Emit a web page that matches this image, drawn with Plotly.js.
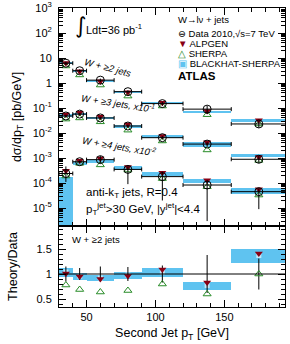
<!DOCTYPE html>
<html><head><meta charset="utf-8">
<script src="https://cdn.plot.ly/plotly-3.0.1.min.js"></script>
<style>html,body{margin:0;padding:0;background:#fff}#chart{width:290px;height:344px}</style>
</head><body><div id="chart"></div>
<script>
// ---- bins (second jet pT, GeV) ----
const binLo = [30, 40, 50, 70, 90, 120, 155];
const binHi = [40, 50, 70, 90, 120, 155, 195];
const binCenter = [35, 45, 60, 80, 105, 137.5, 175];

// ---- W + >=2 jets (x1), pb/GeV ----
const w2Data     = [6.2, 3.1, 1.3, 0.45, 0.15, 0.09, 0.023];
const w2ErrUp    = [0.93, 0.37, 0.20, 0.063, 0.026, 0.032, 0.007];
const w2ErrDown  = [0.93, 0.37, 0.20, 0.063, 0.026, 0.032, 0.007];
const w2Alpgen   = [6.3, 2.95, 1.17, 0.43, 0.163, 0.075, 0.032];
const w2Sherpa   = [4.8, 2.1, 0.83, 0.30, 0.12, 0.054, 0.023];
const w2BhLo     = [5.9, 2.76, 1.12, 0.41, 0.143, 0.062, 0.028];
const w2BhHi     = [7.0, 3.19, 1.27, 0.47, 0.17, 0.077, 0.035];

// ---- W + >=3 jets (x10^-1) ----
const w3Data     = [0.048, 0.057, 0.040, 0.019, 0.0065, 0.0036, 0.00089];
const w3ErrUp    = [0.006, 0.007, 0.005, 0.0025, 0.001, 0.0007, 0.0003];
const w3ErrDown  = [0.006, 0.007, 0.005, 0.0025, 0.001, 0.0007, 0.00025];
const w3Alpgen   = [0.055, 0.065, 0.045, 0.022, 0.0075, 0.0043, 0.0011];
const w3Sherpa   = [0.036, 0.040, 0.028, 0.013, 0.0048, 0.0021, 0.0008];
const w3BhLo     = [0.043, 0.052, 0.036, 0.0153, 0.0061, 0.0028, 0.00105];
const w3BhHi     = [0.055, 0.064, 0.044, 0.021, 0.0083, 0.0045, 0.0015];

// ---- W + >=4 jets (x10^-2) ----
const w4Data     = [2.4e-4, 7.1e-4, 8.6e-4, 3.5e-4, 1.8e-4, 8.3e-5, 4.5e-5];
const w4ErrUp    = [2.2e-4, 0.8e-4, 3.4e-4, 1.1e-4, 1.0e-4, 4.5e-5, 1.5e-5];
const w4ErrDown  = [1.3e-4, 0.8e-4, 2.5e-4, 2.6e-4, 1.6e-4, 8.0e-5, 3.6e-5];
const w4Alpgen   = [3.1e-4, 7.8e-4, 9.5e-4, 4.4e-4, 2.6e-4, 1.3e-4, 5.6e-5];
const w4Sherpa   = [1.9e-4, 6.1e-4, 5.3e-4, 3.3e-4, 1.5e-4, 7.1e-5, 3.3e-5];
const w4BhLo     = [1e-7, 5.3e-4, 6.1e-4, 3.3e-4, 1.9e-4, 1.0e-4, 3.8e-5];
const w4BhHi     = [1.8e-4, 7.1e-4, 8.3e-4, 4.6e-4, 2.7e-4, 1.4e-4, 6.1e-5];

// ---- Ratio panel, W + >=2 jets: Theory/Data ----
const ratioAlpgen   = [1.01, 0.95, 0.90, 0.96, 1.09, 0.83, 1.41];
const ratioSherpa   = [0.78, 0.69, 0.64, 0.67, 0.80, 0.60, 1.00];
const ratioBhLo     = [0.95, 0.89, 0.86, 0.91, 0.95, 0.69, 1.23];
const ratioBhHi     = [1.13, 1.03, 0.98, 1.05, 1.12, 0.85, 1.51];
const ratioDataErr  = [0.15, 0.12, 0.15, 0.14, 0.17, 0.38, 0.31];
const ratioOne      = [1, 1, 1, 1, 1, 1, 1];

// ---- axis ticks ----
const yTickVals = [1e-5, 1e-4, 1e-3, 1e-2, 1e-1, 1, 10, 100, 1000];
const yTickText = ['10<sup>-5</sup>','10<sup>-4</sup>','10<sup>-3</sup>','10<sup>-2</sup>','10<sup>-1</sup>','1','10','10<sup>2</sup>','10<sup>3</sup>'];

const FONT = 'Liberation Sans, Arial, Helvetica, sans-serif';
const BLUE = 'rgb(95,195,240)';
const RED = 'rgb(135,0,20)';
const GREEN = 'rgb(40,140,40)';

const xPlus = binHi.map((h, i) => h - binCenter[i]);
const xMinus = binLo.map((l, i) => binCenter[i] - l);
const widths = binHi.map((h, i) => h - binLo[i]);
const mids = binLo.map((l, i) => (l + binHi[i]) / 2);

const minorLog = [];
for (let n = -6; n <= 2; n++) for (let k = 2; k <= 9; k++) minorLog.push(k * Math.pow(10, n));

const traces = [];
function addSeries(data, eu, ed, alp, she, lo, hi) {
  traces.push({type: 'bar', x: mids, width: widths, base: lo, y: hi.map((h, i) => h - lo[i]),
    marker: {color: BLUE, line: {width: 0}}, xaxis: 'x', yaxis: 'y', hoverinfo: 'skip'});
}
function addMarks(data, eu, ed, alp, she) {
  traces.push({type: 'scatter', mode: 'markers', x: binCenter, y: she,
    marker: {symbol: 'triangle-up-open', size: 7, color: GREEN, line: {width: 1, color: GREEN}},
    xaxis: 'x', yaxis: 'y'});
  traces.push({type: 'scatter', mode: 'markers', x: binCenter, y: alp,
    marker: {symbol: 'triangle-down', size: 7, color: RED},
    xaxis: 'x', yaxis: 'y'});
  traces.push({type: 'scatter', mode: 'markers', x: binCenter, y: data,
    error_x: {type: 'data', symmetric: false, array: xPlus, arrayminus: xMinus, color: 'black', thickness: 1, width: 2},
    error_y: {type: 'data', symmetric: false, array: eu, arrayminus: ed, color: 'black', thickness: 1, width: 0},
    marker: {symbol: 'circle-open', size: 8, color: 'black', line: {width: 1, color: 'black'}},
    xaxis: 'x', yaxis: 'y'});
}
addSeries(w2Data, w2ErrUp, w2ErrDown, w2Alpgen, w2Sherpa, w2BhLo, w2BhHi);
addSeries(w3Data, w3ErrUp, w3ErrDown, w3Alpgen, w3Sherpa, w3BhLo, w3BhHi);
addSeries(w4Data, w4ErrUp, w4ErrDown, w4Alpgen, w4Sherpa, w4BhLo, w4BhHi);
addMarks(w2Data, w2ErrUp, w2ErrDown, w2Alpgen, w2Sherpa);
addMarks(w3Data, w3ErrUp, w3ErrDown, w3Alpgen, w3Sherpa);
addMarks(w4Data, w4ErrUp, w4ErrDown, w4Alpgen, w4Sherpa);

// ratio panel
traces.push({type: 'bar', x: mids, width: widths, base: ratioBhLo, y: ratioBhHi.map((h, i) => h - ratioBhLo[i]),
  marker: {color: BLUE, line: {width: 0}}, xaxis: 'x2', yaxis: 'y2'});
traces.push({type: 'scatter', mode: 'markers', x: binCenter, y: ratioBhLo.map((l, i) => (l + ratioBhHi[i]) / 2),
  marker: {symbol: 'square', size: 5, color: 'rgb(195,232,250)'}, xaxis: 'x2', yaxis: 'y2'});
traces.push({type: 'scatter', mode: 'markers', x: binCenter, y: ratioOne,
  error_y: {type: 'data', array: ratioDataErr, color: 'black', thickness: 1, width: 0},
  marker: {size: 1, color: 'rgba(0,0,0,0)'}, xaxis: 'x2', yaxis: 'y2'});
traces.push({type: 'scatter', mode: 'markers', x: binCenter, y: ratioSherpa,
  marker: {symbol: 'triangle-up-open', size: 7, color: GREEN, line: {width: 1, color: GREEN}}, xaxis: 'x2', yaxis: 'y2'});
traces.push({type: 'scatter', mode: 'markers', x: binCenter, y: ratioAlpgen,
  marker: {symbol: 'triangle-down', size: 7, color: RED}, xaxis: 'x2', yaxis: 'y2'});

// pixel -> paper helpers for annotation placement
const L = 59, R = 285, T = 8, B = 307;
const px = v => (v - L) / (R - L);
const py = v => (B - v) / (B - T);

const ann = (x, y, text, opts = {}) => Object.assign({xref: 'paper', yref: 'paper', x: px(x), y: py(y), text: text,
  showarrow: false, xanchor: 'left', yanchor: 'middle', font: {family: FONT, size: 9.5, color: 'black'}}, opts);

const annotations = [
  ann(80, 26, '∫', {xanchor: 'center', font: {family: 'DejaVu Sans, sans-serif', size: 22, color: 'black'}}),
  ann(84, 29, 'Ldt=36 pb<sup>-1</sup>', {font: {family: FONT, size: 11, color: 'black'}}),
  ann(176, 20, 'W→lν + jets'),
  ann(176, 33, '<span style="font-family:DejaVu Sans">⊖</span> Data 2010,√s=7 TeV'),
  ann(176, 43, '<span style="color:' + RED + '">▼</span> ALPGEN'),
  ann(176, 53, '<span style="color:' + GREEN + '">△</span> SHERPA'),
  ann(176, 63, '<span style="color:' + BLUE + '">▣</span> BLACKHAT-SHERPA'),
  ann(176, 76, '<b>ATLAS</b>', {font: {family: FONT, size: 11.5, color: 'black'}}),
  ann(108, 67, '<i>W + ≥2 jets</i>', {xanchor: 'center', textangle: 15}),
  ann(118, 103, '<i>W + ≥3 jets, x10<sup>-1</sup></i>', {xanchor: 'center', textangle: 9}),
  ann(119, 146, '<i>W + ≥4 jets, x10<sup>-2</sup></i>', {xanchor: 'center', textangle: 10}),
  ann(84, 193, 'anti-k<sub>T</sub> jets, R=0.4', {font: {family: FONT, size: 11.5, color: 'black'}}),
  ann(84, 209, 'p<sub>T</sub><sup>jet</sup>&gt;30 GeV, |y<sup>jet</sup>|&lt;4.4', {font: {family: FONT, size: 11.5, color: 'black'}}),
  ann(70, 239.5, 'W + ≥2 jets')
];

const axCommon = {ticks: 'inside', mirror: 'ticks', showline: true, linecolor: 'black', linewidth: 1,
  tickcolor: 'black', showgrid: false, zeroline: false, tickfont: {family: FONT, size: 11, color: 'black'}};

const split = (B - 226) / (B - T);

const layout = {
  width: 290, height: 344,
  margin: {l: L, r: 290 - R, t: T, b: 344 - B},
  paper_bgcolor: 'white', plot_bgcolor: 'white',
  showlegend: false, barmode: 'overlay', bargap: 0,
  font: {family: FONT, color: 'black'},
  xaxis: Object.assign({}, axCommon, {range: [30, 194], domain: [0, 1], anchor: 'y', matches: 'x2',
    showticklabels: false, dtick: 50, tick0: 0, ticklen: 7,
    minor: {dtick: 10, ticks: 'inside', ticklen: 4, tickcolor: 'black'}}),
  yaxis: Object.assign({}, axCommon, {type: 'log', range: [-5.72, 3], domain: [split, 1], anchor: 'x',
    tickmode: 'array', tickvals: yTickVals, ticktext: yTickText, ticklen: 7, ticklabelstandoff: 4,
    minor: {tickmode: 'array', tickvals: minorLog, ticks: 'inside', ticklen: 4, tickcolor: 'black'},
    title: {text: 'dσ/dp<sub>T</sub> [pb/GeV]', font: {family: FONT, size: 12.5, color: 'black'}, standoff: 8}}),
  xaxis2: Object.assign({}, axCommon, {range: [30, 194], domain: [0, 1], anchor: 'y2',
    dtick: 50, tick0: 0, ticklen: 7,
    minor: {dtick: 10, ticks: 'inside', ticklen: 4, tickcolor: 'black'},
    title: {text: 'Second Jet p<sub>T</sub> [GeV]', font: {family: FONT, size: 12.5, color: 'black'}, standoff: 6}}),
  yaxis2: Object.assign({}, axCommon, {range: [0.34, 1.96], domain: [0, split], anchor: 'x2',
    tickmode: 'array', tickvals: [0.5, 1, 1.5], ticktext: ['0.5', '1', '1.5'], ticklen: 7, ticklabelstandoff: 4,
    minor: {dtick: 0.1, tick0: 0, ticks: 'inside', ticklen: 4, tickcolor: 'black'},
    title: {text: 'Theory/Data', font: {family: FONT, size: 12.5, color: 'black'}, standoff: 16}}),
  shapes: [{type: 'line', xref: 'x2 domain', yref: 'y2', x0: 0, x1: 1, y0: 1, y1: 1, line: {color: 'black', width: 1}}],
  annotations: annotations
};

Plotly.newPlot('chart', traces, layout, {staticPlot: true, displayModeBar: false});
</script>
</body></html>
